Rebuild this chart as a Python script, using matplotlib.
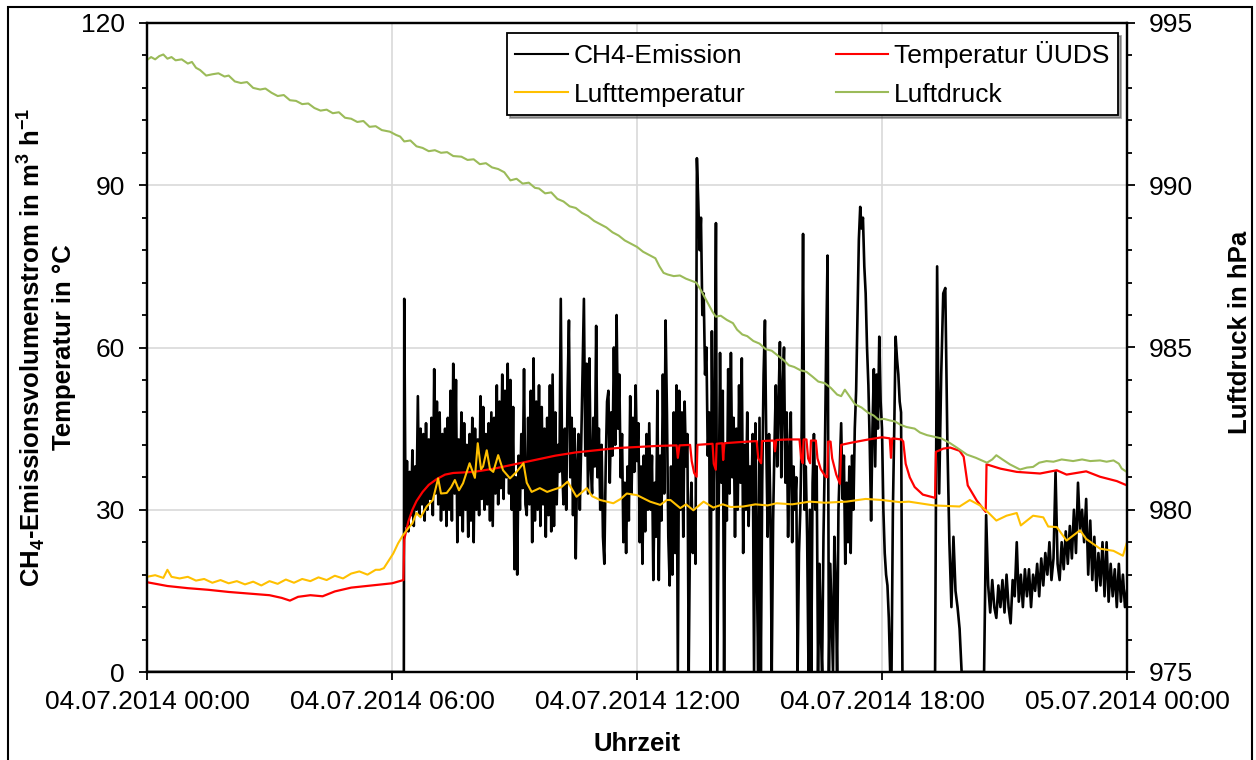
import numpy as np
import matplotlib
matplotlib.use("Agg")
import matplotlib.pyplot as plt
from matplotlib.patches import Rectangle
from matplotlib.ticker import MultipleLocator

plt.rcParams['font.family'] = ['Liberation Sans', 'DejaVu Sans']
plt.rcParams['mathtext.fontset'] = 'custom'
plt.rcParams['mathtext.rm'] = 'Liberation Sans'
plt.rcParams['mathtext.bf'] = 'Liberation Sans:bold'

# ---------------- data (time in hours since 04.07.2014 00:00) ----------------
x_ticks = [0, 6, 12, 18, 24]
x_ticklabels = ["04.07.2014 00:00", "04.07.2014 06:00", "04.07.2014 12:00",
                "04.07.2014 18:00", "05.07.2014 00:00"]

# CH4 emission (m3/h): zero before measurement start
ch4_pre_t = [0.0, 6.29]
ch4_pre_v = [0, 0]

# part A: 2-min samples from 06:18 to 18:28
ch4a_t0 = 6.30
ch4a_dt = 1 / 30
ch4a_values = [
    # 06:18 - 07:16
    69, 27, 39, 26, 37, 29, 41, 27, 38, 30, 51, 29, 45, 31, 44, 28, 46, 30, 43, 32,
    47, 29, 56, 33, 50, 31, 48, 28, 44, 30,
    # 07:18 - 08:16
    45, 27, 47, 30, 52, 28, 57, 33, 54, 24, 43, 29, 48, 26, 46, 30, 42, 25, 44, 28,
    47, 24, 45, 30, 43, 29, 51, 32, 49, 30,
    # 08:18 - 09:16
    44, 31, 46, 28, 48, 27, 47, 33, 53, 31, 50, 34, 55, 32, 52, 36, 57, 33, 54, 30,
    49, 19, 36, 18, 40, 30, 44, 34, 56, 31,
    # 09:18 - 10:16
    29, 47, 31, 52, 24, 58, 28, 50, 30, 53, 27, 49, 31, 45, 25, 47, 29, 53, 26, 55,
    27, 48, 31, 42, 37, 69, 38, 31, 45, 30,
    # 10:18 - 11:16
    52, 65, 36, 47, 29, 45, 21, 38, 44, 30, 42, 55, 69, 40, 57, 33, 58, 38, 33, 47,
    38, 64, 36, 45, 30, 42, 25, 20, 38, 50,
    # 11:18 - 12:16
    52, 35, 48, 40, 60, 42, 66, 45, 55, 36, 44, 24, 35, 22, 38, 28, 51, 33, 47, 37,
    53, 39, 46, 24, 38, 20, 40, 26, 44, 30,
    # 12:18 - 12:58
    46, 30, 40, 17, 35, 25, 52, 17, 40, 28, 55, 33, 65, 48, 25, 16, 38, 18, 48, 22,
    53,
    # 13:00 - 13:58
    0, 52, 30, 48, 25, 50, 38, 44, 0, 28, 35, 22, 30, 20, 95, 87, 78, 84, 66, 70,
    55, 60, 40, 48, 0, 63, 30, 45, 83, 0,
    # 14:00 - 14:58
    30, 59, 35, 52, 0, 42, 28, 56, 33, 59, 36, 47, 25, 45, 30, 53, 35, 58, 22, 42,
    30, 48, 27, 38, 31, 44, 0, 46, 20, 0,
    # 15:00 - 15:58
    47, 0, 35, 55, 65, 42, 25, 44, 30, 0, 28, 42, 53, 38, 50, 61, 36, 52, 60, 35,
    48, 25, 40, 48, 24, 38, 30, 36, 0, 22,
    # 16:00 - 16:58
    30, 45, 81, 30, 38, 25, 0, 30, 0, 35, 44, 30, 38, 0, 20, 8, 0, 25, 40, 60,
    77, 0, 20, 10, 0, 25, 15, 0, 30, 38,
    # 17:00 - 17:58
    46, 32, 40, 20, 35, 24, 38, 22, 40, 30, 45, 52, 66, 80, 86, 82, 84, 75, 70, 60,
    53, 42, 28, 45, 56, 38, 55, 45, 62, 50,
    # 18:00 - 18:28
    45, 30, 22, 18, 16, 10, 0, 0, 30, 45, 62, 58, 55, 50, 48,
]

# part B: 3-min samples from 18:30 to 24:00
ch4b_t0 = 18.5
ch4b_dt = 0.05
ch4b_values = [
    # 18:30 - 19:15
    0, 0, 0, 0, 0, 0, 0, 0, 0, 0, 0, 0, 0, 0, 0, 0,
    # 19:18 - 20:15
    0, 75, 33, 55, 70, 71, 43, 24, 12, 25, 15, 12, 8, 0, 0, 0, 0, 0, 0, 0,
    # 20:18 - 21:15
    0, 0, 0, 0, 0, 29, 16, 11, 17, 12, 10, 16, 12, 17, 11, 18, 12, 9, 17, 14,
    # 21:18 - 22:15
    24, 13, 18, 12, 19, 14, 19, 12, 18, 15, 20, 14, 21, 16, 22, 18, 24, 17, 21, 37,
    # 22:18 - 23:15
    20, 17, 24, 19, 26, 20, 27, 21, 30, 22, 35, 26, 30, 24, 32, 18, 28, 17, 25, 15,
    # 23:18 - 24:00
    22, 16, 24, 14, 24, 13, 20, 14, 19, 12, 20, 13, 18, 12, 15,
]

# Temperatur UeUDS (deg C)
tu_t = [0.0, 0.5, 1.0, 1.5, 2.0, 2.5, 3.0, 3.3, 3.5, 3.7, 4.0, 4.3, 4.6, 5.0, 5.5, 6.0,
        6.28, 6.30, 6.40, 6.50, 6.60, 6.75, 6.90, 7.10, 7.30, 7.50, 8.0, 8.5, 9.0, 9.5,
        10.0, 10.5, 11.0, 11.5, 12.0, 12.5, 12.97, 13.0, 13.04, 13.30, 13.34, 13.40,
        13.46, 13.48, 13.85, 13.88, 13.93, 13.95, 14.09, 14.11, 14.14, 14.5, 14.93,
        14.97, 15.04, 15.06, 15.35, 15.38, 15.41, 15.7, 15.98, 16.02, 16.06, 16.08,
        16.15, 16.19, 16.24, 16.26, 16.38, 16.42, 16.50, 16.62, 16.66, 16.68, 16.74,
        16.78, 16.88, 16.97, 17.0, 17.25, 17.67, 18.0, 18.19, 18.22, 18.25, 18.48,
        18.52, 18.58, 18.68, 18.8, 19.0, 19.3, 19.32, 19.5, 19.67, 19.9, 20.0, 20.1,
        20.32, 20.54, 20.56, 20.9, 21.3, 21.87, 22.28, 22.52, 23.0, 23.34, 23.75, 24.0]
tu_v = [16.6, 15.9, 15.5, 15.2, 14.8, 14.5, 14.2, 13.7, 13.2, 13.9, 14.2, 14.0, 14.9, 15.6, 16.0, 16.4,
        17.0, 24.5, 27.8, 30.0, 31.6, 33.3, 34.6, 35.7, 36.5, 36.8, 37.0, 37.6, 38.4, 39.2,
        40.0, 40.6, 41.0, 41.4, 41.6, 41.8, 41.9, 39.6, 41.9, 42.0, 39.0, 36.8,
        36.1, 42.0, 42.2, 38.5, 37.4, 42.2, 42.3, 39.2, 42.3, 42.5, 42.7,
        39.5, 38.6, 42.7, 42.8, 40.8, 42.9, 43.0, 43.0, 39.5, 38.6, 43.0,
        43.0, 39.5, 38.6, 42.8, 42.8, 39.5, 37.5, 36.1, 36.0, 42.6, 42.6,
        39.5, 36.5, 34.8, 42.0, 42.4, 43.0, 43.4, 43.2, 39.6, 43.2, 43.0,
        42.6, 38.5, 36.0, 34.2, 32.8, 32.2, 40.7, 41.3, 41.5, 40.9, 39.8, 34.5,
        31.7, 29.6, 38.4, 37.6, 37.0, 36.7, 37.3, 36.5, 37.1, 36.1, 35.3, 34.5]

# Lufttemperatur (deg C)
lt_t = [0.0, 0.2, 0.4, 0.5, 0.6, 0.8, 1.0, 1.2, 1.4, 1.6, 1.8, 2.0, 2.2, 2.4, 2.6, 2.8,
        3.0, 3.2, 3.4, 3.6, 3.8, 4.0, 4.2, 4.4, 4.6, 4.8, 5.0, 5.2, 5.4, 5.6, 5.7, 5.8,
        6.03, 6.15, 6.27, 6.4, 6.5, 6.6, 6.7, 6.85, 7.0, 7.13, 7.2, 7.34, 7.45, 7.54,
        7.64, 7.74, 7.9, 8.03, 8.1, 8.18, 8.23, 8.32, 8.4, 8.48, 8.6, 8.72, 8.89, 9.05,
        9.22, 9.3, 9.42, 9.62, 9.8, 9.95, 10.15, 10.3, 10.52, 10.77, 10.9, 11.1, 11.42,
        11.6, 11.75, 12.0, 12.32, 12.57, 12.73, 12.82, 13.06, 13.2, 13.38, 13.63, 13.87,
        14.1, 14.3, 14.6, 14.9, 15.2, 15.42, 15.8, 16.23, 16.6, 17.13, 17.6, 18.0,
        18.44, 18.66, 19.27, 19.9, 20.15, 20.4, 20.6, 20.8, 21.05, 21.3, 21.4, 21.7,
        21.95, 22.07, 22.28, 22.52, 22.85, 23.0, 23.34, 23.67, 23.9, 24.0]
lt_v = [17.6, 17.9, 17.4, 18.9, 17.6, 17.3, 17.6, 16.9, 17.2, 16.5, 17.0, 16.4, 16.8, 16.2, 16.7, 16.0,
        16.8, 16.3, 17.1, 16.5, 17.2, 16.8, 17.5, 17.0, 17.8, 17.3, 18.2, 18.6, 18.0, 18.9, 18.9, 19.2,
        21.9, 23.8, 25.3, 26.6, 27.5, 29.4, 28.6, 30.6, 31.8, 35.8, 33.0, 33.1, 34.2, 35.5,
        33.6, 34.9, 38.6, 35.9, 42.3, 37.5, 38.0, 41.0, 37.5, 37.0, 40.1, 37.3, 35.8, 37.0,
        38.6, 35.0, 33.3, 34.0, 33.3, 33.7, 34.2, 35.2, 32.4, 34.0, 32.5, 31.8, 31.2,
        32.0, 33.0, 32.7, 31.5, 30.9, 31.8, 31.8, 30.3, 31.0, 29.9, 31.5, 30.4,
        31.0, 30.5, 30.6, 31.0, 30.8, 31.2, 31.0, 31.5, 31.3, 31.5, 32.0, 31.8,
        31.4, 31.5, 30.8, 30.6, 31.8, 30.8, 29.5, 28.0, 28.9, 29.4, 27.1, 28.9,
        28.6, 26.9, 26.8, 24.3, 26.2, 24.6, 22.8, 22.4, 21.5, 24.0]

# Luftdruck (hPa)
ld_t = [0.0, 0.1, 0.2, 0.3, 0.4, 0.5, 0.6, 0.7, 0.85, 1.0, 1.1, 1.2, 1.3, 1.45, 1.6, 1.75,
        1.9, 2.0, 2.15, 2.3, 2.45, 2.6, 2.77, 2.9, 3.05, 3.2, 3.35, 3.5, 3.65, 3.8, 3.95,
        4.1, 4.25, 4.4, 4.55, 4.7, 4.85, 5.0, 5.15, 5.3, 5.45, 5.6, 5.75, 5.95, 6.1, 6.2,
        6.3, 6.45, 6.6, 6.75, 6.9, 7.05, 7.2, 7.35, 7.5, 7.7, 7.85, 8.0, 8.15, 8.3, 8.45,
        8.6, 8.75, 8.9, 9.05, 9.2, 9.35, 9.5, 9.6, 9.75, 9.9, 10.05, 10.2, 10.35, 10.5,
        10.65, 10.8, 10.95, 11.1, 11.25, 11.4, 11.55, 11.7, 11.85, 12.0, 12.15, 12.3,
        12.45, 12.55, 12.65, 12.75, 12.9, 13.05, 13.2, 13.35, 13.45, 13.55, 13.7, 13.85,
        13.93, 14.05, 14.2, 14.35, 14.45, 14.58, 14.7, 14.85, 15.0, 15.15, 15.3, 15.45,
        15.6, 15.72, 15.85, 16.0, 16.15, 16.3, 16.44, 16.6, 16.75, 16.9, 17.0, 17.09,
        17.2, 17.34, 17.5, 17.65, 17.8, 17.91, 18.05, 18.2, 18.32, 18.45, 18.6, 18.8,
        18.93, 19.1, 19.27, 19.45, 19.67, 19.85, 20.08, 20.3, 20.57, 20.7, 20.8, 20.95,
        21.13, 21.38, 21.55, 21.7, 21.85, 22.03, 22.2, 22.4, 22.68, 22.9, 23.1, 23.34,
        23.5, 23.67, 23.8, 23.87, 24.0]
ld_v = [993.86, 993.95, 993.88, 993.98, 994.03, 993.9, 993.95, 993.85, 993.88, 993.75,
        993.8, 993.62, 993.55, 993.38, 993.42, 993.45, 993.35, 993.38, 993.2, 993.15,
        993.18, 993.0, 992.95, 992.98, 992.85, 992.75, 992.78, 992.62, 992.6, 992.5,
        992.52, 992.38, 992.3, 992.33, 992.22, 992.25, 992.08, 992.05, 991.95, 991.98,
        991.8, 991.82, 991.7, 991.65, 991.55, 991.5, 991.35, 991.38, 991.2, 991.15,
        991.05, 991.08, 991.0, 991.02, 990.9, 990.88, 990.78, 990.8, 990.65, 990.68,
        990.55, 990.5, 990.4, 990.15, 990.2, 990.05, 990.08, 989.92, 989.9, 989.75,
        989.78, 989.58, 989.5, 989.35, 989.3, 989.15, 989.05, 988.9, 988.8, 988.7,
        988.55, 988.45, 988.3, 988.2, 988.1, 987.95, 987.85, 987.75, 987.5, 987.3,
        987.25, 987.2, 987.22, 987.12, 987.05, 987.0, 986.8, 986.45, 986.1, 985.95,
        985.98, 985.85, 985.75, 985.55, 985.4, 985.35, 985.2, 985.12, 984.95, 984.9,
        984.75, 984.6, 984.45, 984.4, 984.3, 984.25, 984.1, 983.95, 983.9, 983.75,
        983.55, 983.5, 983.7, 983.5, 983.25, 983.15, 983.0, 982.9, 982.78, 982.8,
        982.75, 982.72, 982.62, 982.55, 982.5, 982.38, 982.3, 982.25, 982.2, 982.05,
        981.9, 981.7, 981.6, 981.45, 981.55, 981.68, 981.55, 981.4, 981.24, 981.3,
        981.32, 981.45, 981.5, 981.48, 981.55, 981.5, 981.55, 981.5, 981.52, 981.48,
        981.52, 981.42, 981.27, 981.16]

# ---------------- build series ----------------
ch4_t = np.concatenate([ch4_pre_t,
                        ch4a_t0 + ch4a_dt * np.arange(len(ch4a_values)),
                        ch4b_t0 + ch4b_dt * np.arange(len(ch4b_values))])
ch4_v = np.concatenate([ch4_pre_v, ch4a_values, ch4b_values])

W, H = 1256, 760
fig = plt.figure(figsize=(W / 100, H / 100), dpi=100)
ax = fig.add_axes([147 / W, 1 - 672 / H, 980 / W, 649 / H])
ax2 = ax.twinx()

FS = 19
l_ch4, = ax.plot(ch4_t, ch4_v, color='black', lw=1.9, label='CH4-Emission', zorder=2)
l_tu, = ax.plot(tu_t, tu_v, color='#FF0000', lw=1.6, label='Temperatur ÜUDS', zorder=3)
l_lt, = ax.plot(lt_t, lt_v, color='#FFC000', lw=1.5, label='Lufttemperatur', zorder=4)
l_ld, = ax2.plot(ld_t, ld_v, color='#9BBB59', lw=1.5, label='Luftdruck')

ax.set_xlim(0, 24)
ax.set_ylim(0, 120)
ax2.set_ylim(975, 995)

ax.set_xticks(x_ticks)
ax.set_xticklabels(x_ticklabels)
ax.yaxis.set_major_locator(MultipleLocator(30))
ax.yaxis.set_minor_locator(MultipleLocator(6))
ax2.yaxis.set_major_locator(MultipleLocator(5))
ax2.yaxis.set_minor_locator(MultipleLocator(1))

ax.grid(True, which='major', color='#D9D9D9', lw=1.2)
ax.set_axisbelow(True)

for a in (ax, ax2):
    for s in a.spines.values():
        s.set_linewidth(1.6)
        s.set_color('black')

ax.tick_params(axis='x', which='major', direction='out', length=6, width=1.3,
               labelsize=FS, pad=7)
ax.tick_params(axis='y', which='major', direction='out', length=6, width=1.3,
               labelsize=FS, pad=10)
ax.tick_params(axis='y', which='minor', direction='out', length=3.5, width=1.3)
ax2.tick_params(axis='y', which='major', direction='out', length=6, width=1.3,
                labelsize=FS, pad=10)
ax2.tick_params(axis='y', which='minor', direction='out', length=3.5, width=1.3)

# axis titles
fig.text(45 / W, 1 - 347 / H,
         r"CH$_\mathbf{4}$-Emissionsvolumenstrom in m$^\mathbf{3}$ h$^\mathbf{-1}$" + "\nTemperatur in °C",
         rotation=90, ha='center', va='center', multialignment='center',
         fontsize=18.5, fontweight='bold', linespacing=1.25)
fig.text(1240 / W, 1 - 332 / H, "Luftdruck in hPa", rotation=90, ha='center',
         va='center', fontsize=18.5, fontweight='bold')
fig.text(637 / W, 1 - 744 / H, "Uhrzeit", ha='center', va='center',
         fontsize=18.5, fontweight='bold')

leg = ax2.legend([l_ch4, l_lt, l_tu, l_ld],
                 ['CH4-Emission', 'Lufttemperatur', 'Temperatur ÜUDS', 'Luftdruck'],
                 ncol=2, loc='upper right', bbox_to_anchor=(0.991, 0.985),
                 fontsize=FS, frameon=True, fancybox=False, shadow=True,
                 handlelength=2.0, handletextpad=0.23, columnspacing=3.4,
                 borderpad=0.32, labelspacing=0.55, framealpha=1, borderaxespad=0)
leg.get_frame().set_edgecolor('black')
leg.get_frame().set_linewidth(1.3)
for line in leg.get_lines():
    line.set_linewidth(1.5)

# outer chart border
fig.add_artist(Rectangle((7.5 / W, -0.02), (1252 - 7.5) / W, 1 - 6.5 / H + 0.02,
                         transform=fig.transFigure, fill=False, edgecolor='black',
                         lw=1.5))

fig.savefig('out.png', dpi=100)
